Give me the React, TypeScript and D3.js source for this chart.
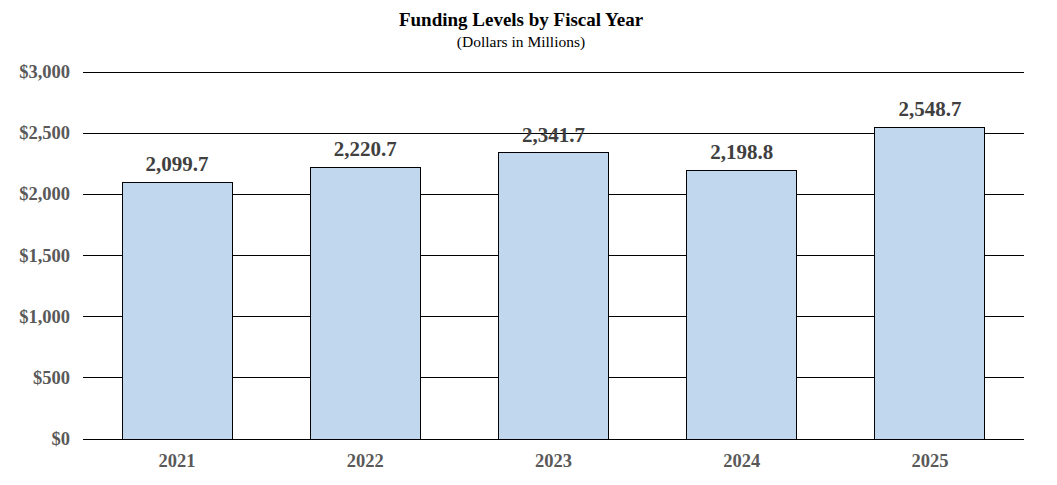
import React from "react";
import * as d3 from "d3";

const categories = ["2021", "2022", "2023", "2024", "2025"];
const values = [2099.7, 2220.7, 2341.7, 2198.8, 2548.7];
const yTicks = [0, 500, 1000, 1500, 2000, 2500, 3000];

const W = 1057;
const H = 485;
const left = 83;
const right = 1024;
const top = 72;
const bottom = 439;

export default function App() {
  const x = d3.scaleBand<string>().domain(categories).range([left, right]).paddingInner(0.415).paddingOuter(0.2075);
  const y = d3.scaleLinear().domain([0, 3000]).range([bottom, top]);
  const fmtY = (v: number) => "$" + d3.format(",")(v);
  const fmtV = d3.format(",.1f");
  const font = "'Liberation Serif', 'Times New Roman', serif";
  return (
    <svg width={W} height={H} style={{ position: "absolute", left: 0, top: 0, background: "#fff" }} fontFamily={font}>
      <text x={521} y={26} textAnchor="middle" fontSize={19} fontWeight="bold" fill="#000">Funding Levels by Fiscal Year</text>
      <text x={521} y={47} textAnchor="middle" fontSize={15.5} fill="#000">(Dollars in Millions)</text>
      {yTicks.map((t) => (
        <g key={t}>
          <line x1={left} x2={right} y1={y(t)} y2={y(t)} stroke="#000" strokeWidth={1} shapeRendering="crispEdges" />
          <text x={70} y={y(t) + 6} textAnchor="end" fontSize={18.5} fontWeight="bold" fill="#595959">{fmtY(t)}</text>
        </g>
      ))}
      {categories.map((c, i) => (
        <g key={c}>
          <rect x={x(c)!} y={y(values[i])} width={x.bandwidth()} height={bottom - y(values[i])} fill="#C1D7EE" stroke="#000" strokeWidth={1} shapeRendering="crispEdges" />
          <text x={x(c)! + x.bandwidth() / 2} y={y(values[i]) - 11} textAnchor="middle" fontSize={21} fontWeight="bold" fill="#404040">{fmtV(values[i])}</text>
          <text x={x(c)! + x.bandwidth() / 2} y={467} textAnchor="middle" fontSize={18.5} fontWeight="bold" fill="#595959">{c}</text>
        </g>
      ))}
    </svg>
  );
}
